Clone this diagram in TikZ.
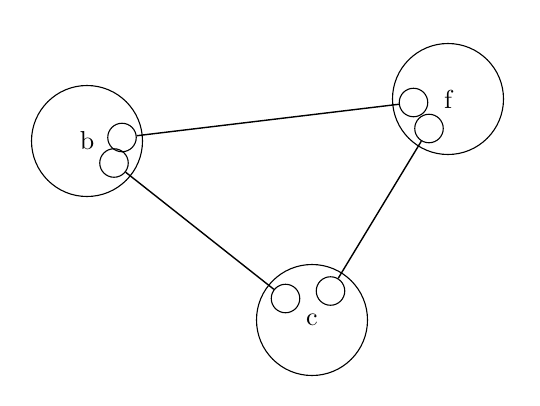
\documentclass[tikz,border=0pt]{standalone}
\usepackage{fontspec}
\setmainfont{lmroman10-regular.otf}
\usepackage{tikz}
\usetikzlibrary{positioning}
\tikzset{
  group/.style={draw=black, circle, minimum size=111pt, inner sep=0pt, line width=1.1pt, font=\fontsize{26}{31}\selectfont},
  port/.style={draw=black, circle, minimum size=28.5pt, inner sep=0pt, line width=1.1pt},
  link/.style={draw=black, line width=1.4pt}
}

\begin{document}
\begin{tikzpicture}[x=1pt, y=-1pt]
  \useasboundingbox (0,0) rectangle (540,405);

  \node[group] (b) at (87,141) {b};
  \node[group] (f) at (448,99) {f};
  \node[group] (c) at (312,320) {c};

  \node[port] (b1) at (122,137.5) {};
  \node[port] (b2) at (114,163) {};
  \node[port] (f1) at (413.5,102.5) {};
  \node[port] (f2) at (429,128.5) {};
  \node[port] (c1) at (285.5,298.5) {};
  \node[port] (c2) at (330.5,291) {};

  \draw[link] (b1) -- (f1);
  \draw[link] (b2) -- (c1);
  \draw[link] (f2) -- (c2);
\end{tikzpicture}
\end{document}
